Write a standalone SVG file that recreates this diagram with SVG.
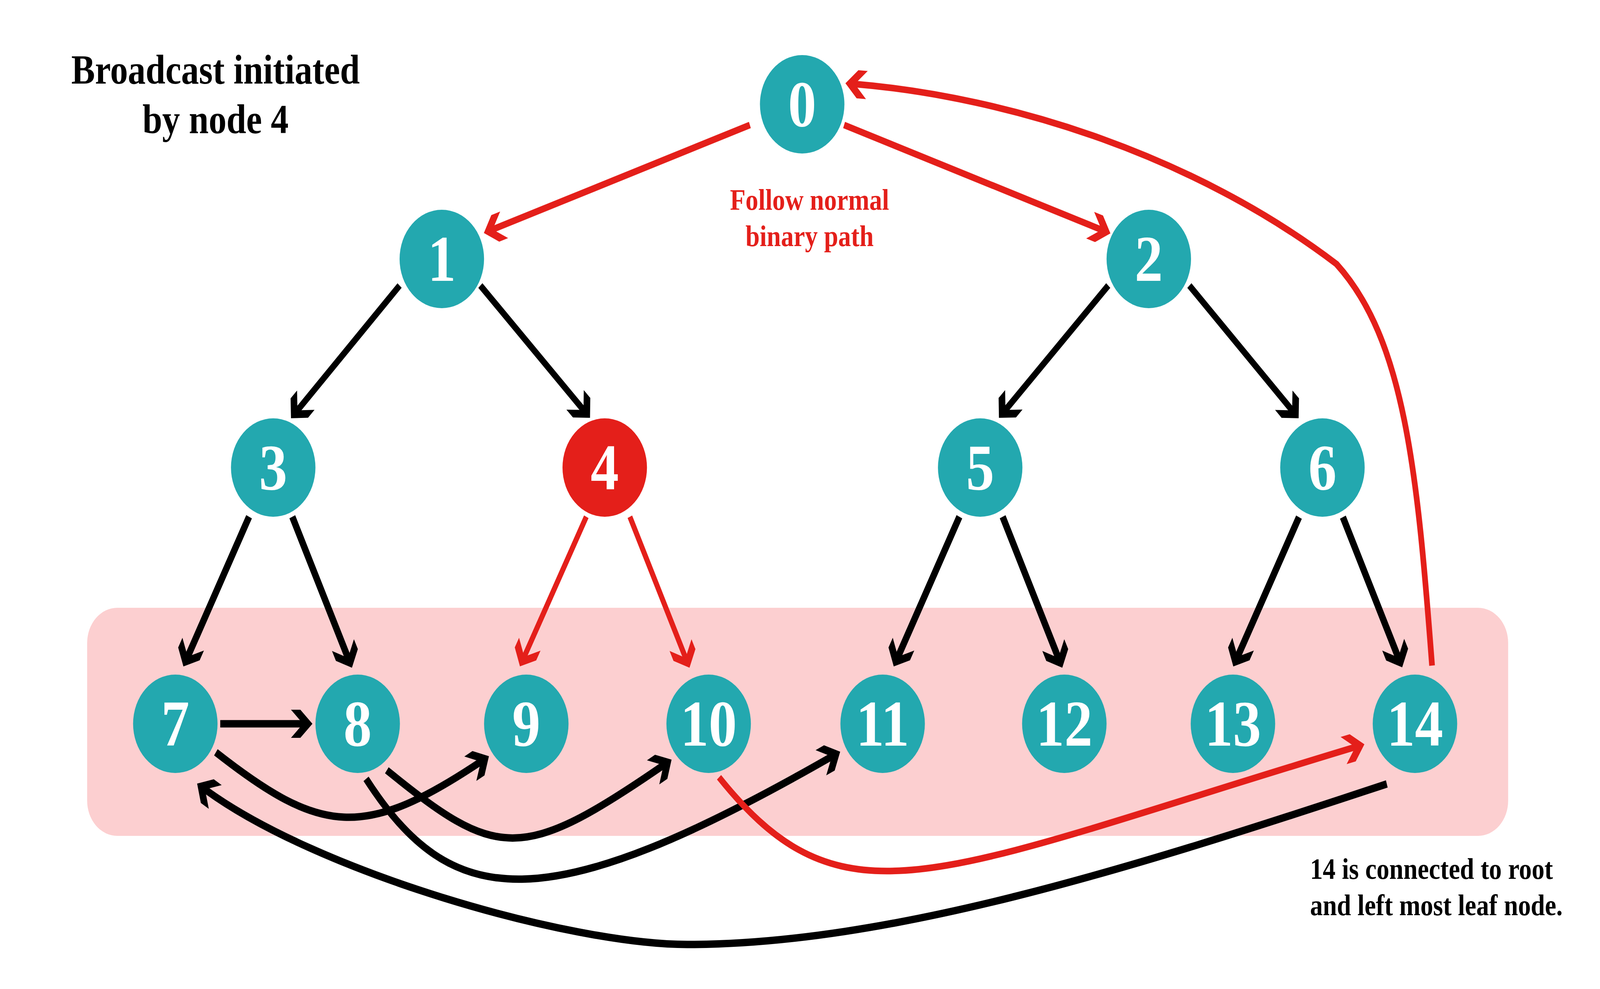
<svg xmlns="http://www.w3.org/2000/svg" width="4773" height="2532" viewBox="0 0 4773 2532" preserveAspectRatio="none" style="width:100%;height:100%">
<style>
.bg{fill:#ffffff}
.band{fill:#FCCFD0}
.n{fill:#23A8AF}
.n4{fill:#E41F1A}
.lbl{font-family:"Liberation Serif","Times New Roman",serif;font-weight:bold;font-size:168px;fill:#ffffff;text-anchor:middle}
.k{fill:none;stroke:#000000;stroke-width:17;stroke-linecap:butt;marker-end:url(#ak)}
.k2{fill:none;stroke:#000000;stroke-width:19;stroke-linecap:butt;marker-end:url(#ak)}
.kc{fill:none;stroke:#000000;stroke-width:19;stroke-linecap:butt;marker-end:url(#ak)}
.r{fill:none;stroke:#E41F1A;stroke-width:17;stroke-linecap:butt;marker-end:url(#ar)}
.r2{fill:none;stroke:#E41F1A;stroke-width:15;stroke-linecap:butt;marker-end:url(#ar)}
.rc{fill:none;stroke:#E41F1A;stroke-width:17;stroke-linecap:butt;marker-end:url(#ar)}
.title{font-family:"Liberation Serif","Times New Roman",serif;font-weight:bold;font-size:106px;fill:#000000;text-anchor:middle}
.note{font-family:"Liberation Serif","Times New Roman",serif;font-weight:bold;font-size:76px;fill:#000000}
.rnote{font-family:"Liberation Serif","Times New Roman",serif;font-weight:bold;font-size:76px;fill:#E41F1A;text-anchor:middle}
</style>
<defs>
<marker id="ak" markerUnits="userSpaceOnUse" orient="auto" refX="0" refY="0" markerWidth="10" markerHeight="10" overflow="visible">
<path d="M26,0 L-10,-36 L-38,-36 L-2,0 L-38,36 L-10,36 Z" fill="#000000"/>
</marker>
<marker id="ar" markerUnits="userSpaceOnUse" orient="auto" refX="0" refY="0" markerWidth="10" markerHeight="10" overflow="visible">
<path d="M26,0 L-10,-36 L-38,-36 L-2,0 L-38,36 L-10,36 Z" fill="#E41F1A"/>
</marker>
</defs>
<rect class="bg" x="0" y="0" width="4773" height="2532"/>
<rect class="band" x="260" y="1556" width="4239" height="584" rx="90" ry="90"/>

<g id="connectors">
<path id="e0-1" class="r" d="M2237,320 L1468,588"/>
<path id="e0-2" class="r" d="M2518,320 L3288,589"/>
<path id="e1-3" class="k" d="M1192,731 L886,1052"/>
<path id="e1-4" class="k" d="M1433,731 L1742,1051"/>
<path id="e2-5" class="k" d="M3306,731 L2998,1051"/>
<path id="e2-6" class="k" d="M3548,731 L3856,1052"/>
<path id="e3-7" class="k2" d="M743,1323 L559,1683"/>
<path id="e3-8" class="k2" d="M872,1323 L1039,1686"/>
<path id="e4-9" class="r2" d="M1749,1323 L1563,1683"/>
<path id="e4-10" class="r2" d="M1879,1323 L2046,1686"/>
<path id="e5-11" class="k2" d="M2862,1323 L2678,1683"/>
<path id="e5-12" class="k2" d="M2991,1323 L3158,1686"/>
<path id="e6-13" class="k2" d="M3875,1324 L3691,1683"/>
<path id="e6-14" class="k2" d="M4006,1324 L4172,1685"/>
<path id="e7-8" class="kc" d="M657,1853 L906,1853"/>
<path id="e7-9" class="kc" d="M644,1926 C957,2137 1086,2150 1436,1949"/>
<path id="e8-10" class="kc" d="M1154,1972 C1480,2199 1553,2212 1981,1958"/>
<path id="e8-11" class="kc" d="M1092,1994 C1344,2330 1618,2362 2483,1936"/>
<path id="e10-14" class="rc" d="M2145,1990 C2519,2391 2787,2237 4045,1912"/>
<path id="e14-7" class="kc" d="M4137,2007 C3367,2226 2650,2418 2050,2418 C1700,2418 948,2234 610,2020"/>
<path id="e14-0" class="rc" d="M4272,1704 C4228,1206 4190,869 3987,676 C3568,402 3020,249 2548,215"/>
</g>

<g id="node-0"><circle class="n" cx="2393" cy="267" r="126"/><text class="lbl" x="2393" y="323">0</text></g>
<g id="node-1"><circle class="n" cx="1318" cy="663" r="126"/><text class="lbl" x="1318" y="719">1</text></g>
<g id="node-2"><circle class="n" cx="3427" cy="663" r="126"/><text class="lbl" x="3427" y="719">2</text></g>
<g id="node-3"><circle class="n" cx="815" cy="1197" r="126"/><text class="lbl" x="815" y="1253">3</text></g>
<g id="node-4"><circle class="n4" cx="1804" cy="1197" r="126"/><text class="lbl" x="1804" y="1253">4</text></g>
<g id="node-5"><circle class="n" cx="2924" cy="1197" r="126"/><text class="lbl" x="2924" y="1253">5</text></g>
<g id="node-6"><circle class="n" cx="3945" cy="1197" r="126"/><text class="lbl" x="3945" y="1253">6</text></g>
<g id="node-7"><circle class="n" cx="523" cy="1853" r="126"/><text class="lbl" x="523" y="1909">7</text></g>
<g id="node-8"><circle class="n" cx="1067" cy="1853" r="126"/><text class="lbl" x="1067" y="1909">8</text></g>
<g id="node-9"><circle class="n" cx="1570" cy="1853" r="126"/><text class="lbl" x="1570" y="1909">9</text></g>
<g id="node-10"><circle class="n" cx="2114" cy="1853" r="126"/><text class="lbl" x="2114" y="1909">10</text></g>
<g id="node-11"><circle class="n" cx="2633" cy="1853" r="126"/><text class="lbl" x="2633" y="1909">11</text></g>
<g id="node-12"><circle class="n" cx="3175" cy="1853" r="126"/><text class="lbl" x="3175" y="1909">12</text></g>
<g id="node-13"><circle class="n" cx="3678" cy="1853" r="126"/><text class="lbl" x="3678" y="1909">13</text></g>
<g id="node-14"><circle class="n" cx="4221" cy="1853" r="126"/><text class="lbl" x="4221" y="1909">14</text></g>

<g id="title">
<text class="title" x="643" y="214">Broadcast initiated</text>
<text class="title" x="643" y="341">by node 4</text>
</g>
<g id="path-note">
<text class="rnote" x="2415" y="537">Follow normal</text>
<text class="rnote" x="2415" y="630">binary path</text>
</g>
<g id="leaf-note">
<text class="note" x="3908" y="2250">14 is connected to root</text>
<text class="note" x="3908" y="2343">and left most leaf node.</text>
</g>
</svg>
